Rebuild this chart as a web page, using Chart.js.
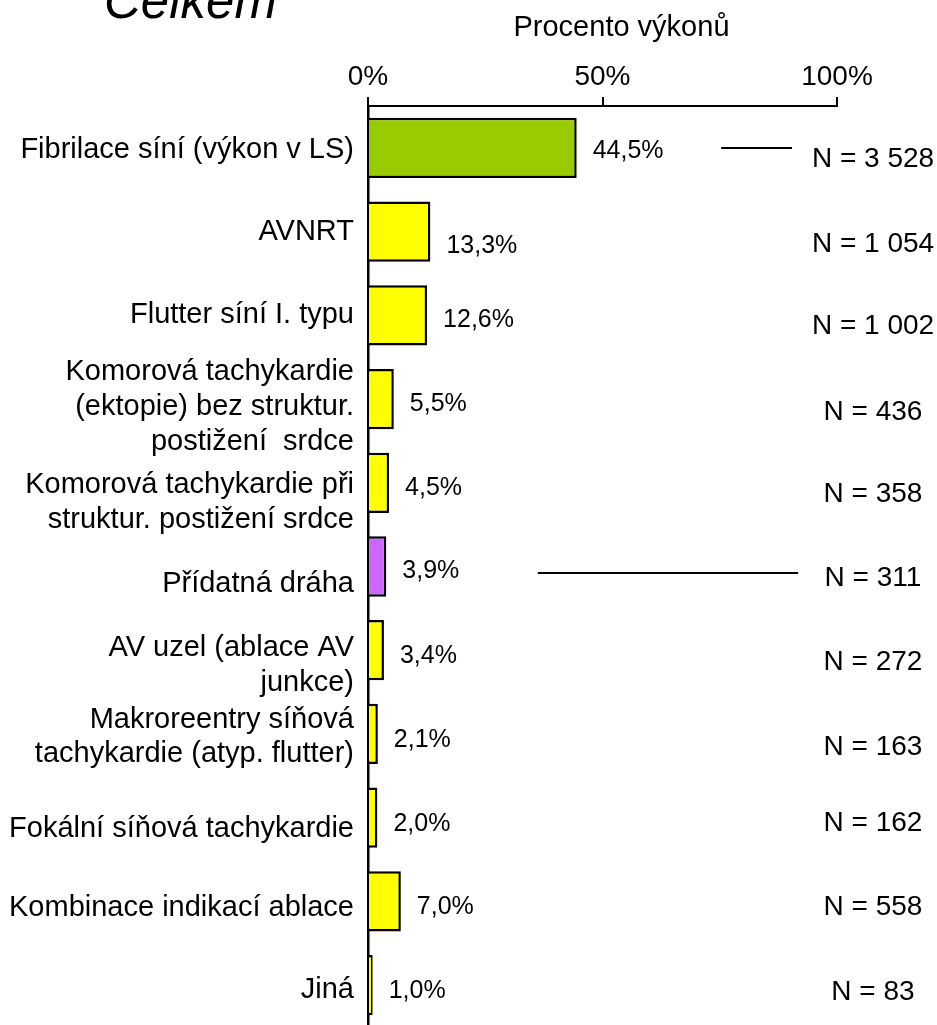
<!DOCTYPE html>
<html>
<head>
<meta charset="utf-8">
<script src="https://cdn.jsdelivr.net/npm/chart.js@4/dist/chart.umd.min.js"></script>
<style>
html,body{margin:0;padding:0;background:#fff;overflow:hidden;}
#wrap{width:937px;height:1027px;}
</style>
</head>
<body>
<div id="wrap"><canvas id="c" width="937" height="1027"></canvas></div>
<script>
// ---- data ----
const categories = [
  ["Fibrilace síní (výkon v LS)"],
  ["AVNRT"],
  ["Flutter síní I. typu"],
  ["Komorová tachykardie", "(ektopie) bez struktur.", "postižení  srdce"],
  ["Komorová tachykardie při", "struktur. postižení srdce"],
  ["Přídatná dráha"],
  ["AV uzel (ablace AV", "junkce)"],
  ["Makroreentry síňová", "tachykardie (atyp. flutter)"],
  ["Fokální síňová tachykardie"],
  ["Kombinace indikací ablace"],
  ["Jiná"]
];
const percentValues = [44.5, 13.3, 12.6, 5.5, 4.5, 3.9, 3.4, 2.1, 2.0, 7.0, 1.0];
const countLabels = ["N = 3 528", "N = 1 054", "N = 1 002", "N = 436", "N = 358", "N = 311", "N = 272", "N = 163", "N = 162", "N = 558", "N = 83"];
const xTicks = [0, 50, 100];
const connectors = [ {index: 0, from: 75.3, to: 90.4}, {index: 5, from: 36.2, to: 91.7} ];
const chartTitle = "Celkem";
const axisTitle = "Procento výkonů";

// ---- styling / layout (not data) ----
const barColors = ["#99CC00", "#FFFF00", "#FFFF00", "#FFFF00", "#FFFF00", "#CC66FF", "#FFFF00", "#FFFF00", "#FFFF00", "#FFFF00", "#FFFF00"];
const valueDy = [3, 15, 5, 5, 5, 5, 6, 6, 6, 6, 6];
const countDy = [11, 13, 11, 13, 12, 12, 12, 13, 6, 6, 7];
const categoryDy = [2, 0, 0, 8, 20, 17, 15, 3, 11, 7, 5];
const connectorDy = [0, 0, 0, 0, 0, 6];
const FONT = "'Liberation Sans', Arial, sans-serif";

const fmt = v => v.toFixed(1).replace('.', ',') + '%';

const shiftCategoryLabels = {
  id: 'shiftCategoryLabels',
  beforeDraw(chart) {
    const ys = chart.scales.y;
    const items = ys.getLabelItems(chart.chartArea);
    if (!items || items._shifted) return;
    items.forEach((it, i) => { it.options.translation[1] += (categoryDy[i] || 0); });
    items._shifted = true;
  }
};

const annotate = {
  id: 'annotate',
  afterDatasetsDraw(chart) {
    const ctx = chart.ctx;
    const xs = chart.scales.x, ys = chart.scales.y;
    const area = chart.chartArea;
    ctx.save();
    ctx.fillStyle = '#000';
    // axis title
    ctx.font = '29px ' + FONT;
    ctx.textAlign = 'center';
    ctx.textBaseline = 'middle';
    ctx.fillText(axisTitle, (area.left + area.right) / 2 + 19, 28);
    // value labels
    ctx.font = '25px ' + FONT;
    ctx.textAlign = 'left';
    percentValues.forEach((v, i) => {
      ctx.fillText(fmt(v), xs.getPixelForValue(v) + 16, ys.getPixelForValue(i) + valueDy[i]);
    });
    // N labels
    ctx.font = '28px ' + FONT;
    ctx.textAlign = 'center';
    countLabels.forEach((t, i) => {
      ctx.fillText(t, area.right + 36, ys.getPixelForValue(i) + countDy[i]);
    });
    // connector lines
    ctx.strokeStyle = '#000';
    ctx.lineWidth = 2;
    connectors.forEach(c => {
      const y = Math.round(ys.getPixelForValue(c.index) + (connectorDy[c.index] || 0));
      ctx.beginPath();
      ctx.moveTo(xs.getPixelForValue(c.from), y);
      ctx.lineTo(xs.getPixelForValue(c.to), y);
      ctx.stroke();
    });
    // chart title
    ctx.font = 'italic 51px ' + FONT;
    ctx.textAlign = 'left';
    ctx.textBaseline = 'alphabetic';
    ctx.fillText(chartTitle, 104, 18);
    ctx.restore();
  }
};

new Chart(document.getElementById('c'), {
  type: 'bar',
  data: {
    labels: categories,
    datasets: [{
      data: percentValues,
      backgroundColor: barColors,
      borderColor: '#000',
      borderWidth: 2.5,
      borderSkipped: 'start',
      barPercentage: 0.72,
      categoryPercentage: 1.0
    }]
  },
  options: {
    indexAxis: 'y',
    responsive: false,
    animation: false,
    events: [],
    layout: { padding: { left: 0, right: 100, top: 0, bottom: 0 } },
    plugins: { legend: { display: false }, tooltip: { enabled: false } },
    scales: {
      x: {
        position: 'top',
        z: 1,
        min: 0, max: 100,
        afterBuildTicks(scale) { scale.ticks = xTicks.map(v => ({value: v})); },
        afterFit(scale) { scale.height = 106; scale.paddingLeft = 0; scale.paddingRight = 0; },
        ticks: {
          callback: v => v + '%',
          color: '#000',
          font: { family: FONT, size: 28 },
          padding: 3,
          maxRotation: 0
        },
        grid: { drawOnChartArea: false, drawTicks: true, tickLength: 9, color: '#000', lineWidth: 2 },
        border: { display: true, color: '#000', width: 2 },
        title: { display: false }
      },
      y: {
        z: 1,
        afterFit(scale) { scale.width = 368; scale.paddingTop = 0; scale.paddingBottom = 0; },
        ticks: {
          color: '#000',
          font: { family: FONT, size: 29, lineHeight: 1.2 },
          padding: 14,
          autoSkip: false
        },
        grid: { drawOnChartArea: false, drawTicks: false },
        border: { display: true, color: '#000', width: 2.5 }
      }
    }
  },
  plugins: [shiftCategoryLabels, annotate]
});
</script>
</body>
</html>
